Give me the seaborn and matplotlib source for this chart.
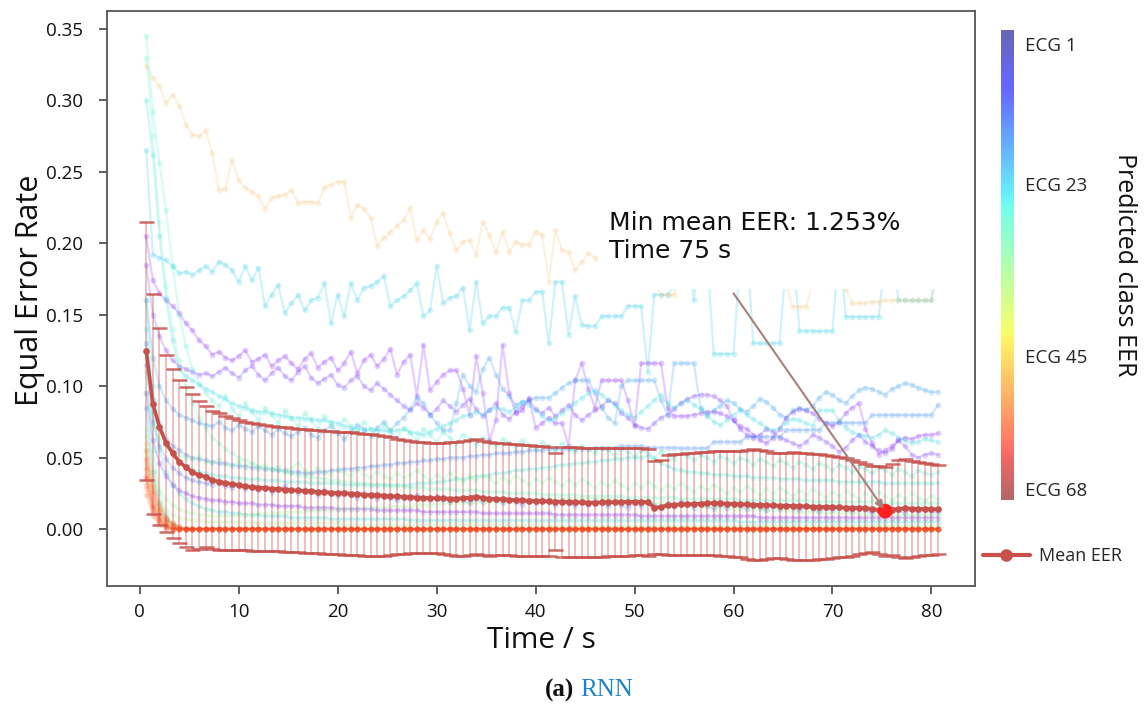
import numpy as np
import pandas as pd
import matplotlib
matplotlib.use("Agg")
import matplotlib.pyplot as plt
import seaborn as sns
from matplotlib.colors import ListedColormap, Normalize
from matplotlib.cm import ScalarMappable
from matplotlib.lines import Line2D
from matplotlib.patches import Rectangle

sns.set_theme(style="ticks")
plt.rcParams["font.family"] = ["DejaVu Sans"]

# ---------------- data ----------------
time_s = np.arange(1, 122) / 1.5          # evaluation grid, every 2/3 s

mean_eer = [0.1246, 0.0875, 0.0716, 0.0600, 0.0530, 0.0471, 0.0432, 0.0397, 0.0378, 0.0366,
            0.0343, 0.0332, 0.0322, 0.0316, 0.0308, 0.0298, 0.0294, 0.0290, 0.0287, 0.0283,
            0.0280, 0.0276, 0.0272, 0.0270, 0.0266, 0.0263, 0.0260, 0.0258, 0.0255, 0.0252,
            0.0250, 0.0248, 0.0245, 0.0240, 0.0238, 0.0236, 0.0234, 0.0230, 0.0228, 0.0225,
            0.0222, 0.0220, 0.0218, 0.0216, 0.0215, 0.0214, 0.0213, 0.0212, 0.0216, 0.0220,
            0.0226, 0.0218, 0.0212, 0.0210, 0.0208, 0.0205, 0.0202, 0.0200, 0.0198, 0.0196,
            0.0195, 0.0193, 0.0192, 0.0190, 0.0189, 0.0188, 0.0186, 0.0185, 0.0184, 0.0186,
            0.0187, 0.0188, 0.0189, 0.0190, 0.0191, 0.0190, 0.0188, 0.0150, 0.0152, 0.0168,
            0.0170, 0.0172, 0.0174, 0.0175, 0.0178, 0.0180, 0.0182, 0.0180, 0.0178, 0.0176,
            0.0174, 0.0172, 0.0170, 0.0168, 0.0166, 0.0165, 0.0164, 0.0163, 0.0162, 0.0160,
            0.0158, 0.0156, 0.0155, 0.0154, 0.0153, 0.0152, 0.0150, 0.0148, 0.0147, 0.0145,
            0.0140, 0.0133, 0.01253, 0.0135, 0.0142, 0.0144, 0.0143, 0.0141, 0.0140, 0.0139, 0.0138]

std_eer = [0.090, 0.077, 0.069, 0.062, 0.059, 0.057, 0.056, 0.0546, 0.0518, 0.0495,
           0.0483, 0.0478, 0.0470, 0.0460, 0.0452, 0.0448, 0.0445, 0.0443, 0.0440, 0.0438,
           0.0437, 0.0436, 0.0434, 0.0433, 0.0432, 0.0430, 0.0430, 0.0431, 0.0430, 0.0429,
           0.0429, 0.0428, 0.0428, 0.0427, 0.0427, 0.0425, 0.0420, 0.0412, 0.0405, 0.0398,
           0.0392, 0.0390, 0.0388, 0.0386, 0.0385, 0.0388, 0.0395, 0.0400, 0.0402, 0.0403,
           0.0402, 0.0400, 0.0398, 0.0394, 0.0392, 0.0390, 0.0392, 0.0390, 0.0390, 0.0388,
           0.0386, 0.0384, 0.0338, 0.0386, 0.0385, 0.0384, 0.0383, 0.0382, 0.0381, 0.0380,
           0.0379, 0.0378, 0.0377, 0.0376, 0.0375, 0.0374, 0.0374, 0.0325, 0.0330, 0.0350,
           0.0352, 0.0355, 0.0356, 0.0358, 0.0360, 0.0362, 0.0365, 0.0368, 0.0370, 0.0372,
           0.0372, 0.0380, 0.0388, 0.0385, 0.0378, 0.0370, 0.0368, 0.0372, 0.0378, 0.0375,
           0.0372, 0.0370, 0.0368, 0.0362, 0.0355, 0.0350, 0.0345, 0.0335, 0.0322, 0.0312,
           0.0300, 0.0306, 0.0311, 0.0318, 0.0340, 0.0345, 0.0336, 0.0330, 0.0325, 0.0318, 0.0310]

ecg50 = [0.324, 0.316, 0.310, 0.298, 0.304, 0.296, 0.283, 0.276, 0.275, 0.279,
         0.263, 0.237, 0.238, 0.258, 0.244, 0.239, 0.236, 0.233, 0.224, 0.232,
         0.233, 0.234, 0.237, 0.228, 0.229, 0.229, 0.228, 0.239, 0.241, 0.243,
         0.243, 0.218, 0.227, 0.224, 0.218, 0.198, 0.204, 0.208, 0.212, 0.216,
         0.225, 0.202, 0.209, 0.203, 0.215, 0.221, 0.207, 0.195, 0.201, 0.202,
         0.192, 0.215, 0.206, 0.194, 0.208, 0.194, 0.201, 0.199, 0.199, 0.208,
         0.206, 0.173, 0.209, 0.195, 0.194, 0.181, 0.187, 0.193, 0.190, 0.185,
         0.192, 0.188, 0.195, 0.186, 0.183, 0.190, 0.180, 0.172, 0.164, 0.164,
         0.164, 0.178, 0.184, 0.180, 0.177, 0.182, 0.179, 0.176, 0.180, 0.178,
         0.175, 0.179, 0.176, 0.174, 0.178, 0.175, 0.173, 0.170, 0.1556, 0.1556,
         0.1556, 0.172, 0.175, 0.170, 0.173, 0.170, 0.168, 0.158, 0.158, 0.158,
         0.159, 0.159, 0.160, 0.160, 0.160, 0.160, 0.160, 0.160, 0.160, 0.160, 0.178]

ecg20 = [0.265, 0.192, 0.190, 0.188, 0.184, 0.179, 0.180, 0.178, 0.181, 0.184,
         0.180, 0.187, 0.185, 0.181, 0.173, 0.184, 0.174, 0.183, 0.156, 0.164,
         0.171, 0.151, 0.158, 0.164, 0.153, 0.160, 0.162, 0.172, 0.144, 0.164,
         0.149, 0.172, 0.160, 0.169, 0.170, 0.173, 0.177, 0.156, 0.160, 0.163,
         0.167, 0.172, 0.149, 0.153, 0.184, 0.158, 0.162, 0.163, 0.169, 0.139,
         0.173, 0.144, 0.149, 0.149, 0.155, 0.155, 0.138, 0.160, 0.160, 0.166,
         0.166, 0.130, 0.173, 0.173, 0.136, 0.163, 0.143, 0.142, 0.142, 0.149,
         0.149, 0.149, 0.149, 0.156, 0.156, 0.156, 0.110, 0.164, 0.164, 0.164,
         0.170, 0.185, 0.195, 0.160, 0.200, 0.190, 0.1225, 0.1225, 0.1225, 0.1225,
         0.190, 0.200, 0.130, 0.130, 0.130, 0.130, 0.130, 0.190, 0.200, 0.1386,
         0.1386, 0.1386, 0.1386, 0.1386, 0.1386, 0.200, 0.1486, 0.1486, 0.1486, 0.1486,
         0.1486, 0.1486, 0.190, 0.200, 0.160, 0.160, 0.160, 0.160, 0.160, 0.160, 0.200]

ecg02 = [0.205, 0.174, 0.165, 0.160, 0.156, 0.151, 0.144, 0.139, 0.132, 0.128,
         0.122, 0.124, 0.120, 0.118, 0.121, 0.125, 0.117, 0.119, 0.122, 0.114,
         0.118, 0.121, 0.116, 0.112, 0.119, 0.123, 0.113, 0.117, 0.120, 0.111,
         0.116, 0.124, 0.109, 0.118, 0.122, 0.114, 0.119, 0.126, 0.108, 0.117,
         0.122, 0.093, 0.129, 0.097, 0.103, 0.108, 0.111, 0.111, 0.098, 0.080,
         0.121, 0.095, 0.062, 0.076, 0.129, 0.095, 0.081, 0.083, 0.092, 0.071,
         0.074, 0.078, 0.074, 0.074, 0.058, 0.104, 0.116, 0.098, 0.085, 0.104,
         0.104, 0.104, 0.104, 0.090, 0.072, 0.116, 0.116, 0.116, 0.116, 0.085,
         0.079, 0.079, 0.079, 0.080, 0.081, 0.082, 0.082, 0.081, 0.079, 0.076,
         0.072, 0.070, 0.066, 0.062, 0.060, 0.064, 0.070, 0.078, 0.082, 0.084,
         0.083, 0.081, 0.077, 0.074, 0.072, 0.075, 0.081, 0.085, 0.088, 0.070,
         0.060, 0.052, 0.055, 0.058, 0.062, 0.064, 0.063, 0.065, 0.066, 0.066, 0.067]

ecg04 = [0.185, 0.150, 0.135, 0.125, 0.118, 0.114, 0.112, 0.110, 0.108, 0.109,
         0.107, 0.110, 0.113, 0.109, 0.106, 0.111, 0.114, 0.108, 0.104, 0.109,
         0.113, 0.107, 0.104, 0.110, 0.114, 0.106, 0.102, 0.105, 0.108, 0.101,
         0.099, 0.104, 0.107, 0.100, 0.097, 0.102, 0.098, 0.094, 0.090, 0.086,
         0.083, 0.088, 0.085, 0.080, 0.084, 0.090, 0.086, 0.082, 0.087, 0.091,
         0.084, 0.079, 0.083, 0.088, 0.080, 0.077, 0.082, 0.086, 0.090, 0.084,
         0.081, 0.085, 0.079, 0.083, 0.087, 0.080, 0.076, 0.080, 0.083, 0.086,
         0.090, 0.088, 0.081, 0.078, 0.073, 0.071, 0.070, 0.074, 0.078, 0.080,
         0.084, 0.088, 0.091, 0.093, 0.094, 0.094, 0.093, 0.090, 0.086, 0.076,
         0.070, 0.066, 0.064, 0.066, 0.070, 0.068, 0.064, 0.062, 0.060, 0.058,
         0.061, 0.066, 0.064, 0.061, 0.058, 0.054, 0.057, 0.062, 0.066, 0.061,
         0.058, 0.055, 0.053, 0.056, 0.062, 0.058, 0.052, 0.050, 0.052, 0.053, 0.052]

ecg12 = [0.130, 0.090, 0.072, 0.063, 0.058, 0.055, 0.052, 0.050, 0.049, 0.048,
         0.047, 0.046, 0.046, 0.045, 0.044, 0.044, 0.043, 0.043, 0.042, 0.042,
         0.041, 0.041, 0.040, 0.040, 0.039, 0.039, 0.040, 0.040, 0.041, 0.041,
         0.042, 0.042, 0.043, 0.043, 0.044, 0.044, 0.045, 0.045, 0.046, 0.046,
         0.047, 0.047, 0.048, 0.048, 0.049, 0.049, 0.050, 0.050, 0.050, 0.051,
         0.051, 0.052, 0.052, 0.053, 0.053, 0.053, 0.054, 0.054, 0.055, 0.055,
         0.055, 0.056, 0.056, 0.056, 0.056, 0.056, 0.056, 0.056, 0.057, 0.057,
         0.057, 0.057, 0.058, 0.058, 0.058, 0.058, 0.057, 0.057, 0.057, 0.057,
         0.057, 0.0565, 0.0565, 0.0565, 0.0565, 0.0565, 0.061, 0.061, 0.061, 0.061,
         0.061, 0.0646, 0.0646, 0.0646, 0.0646, 0.0646, 0.0646, 0.0693, 0.0693, 0.0693,
         0.0693, 0.0693, 0.0693, 0.0744, 0.0744, 0.0744, 0.0744, 0.0744, 0.0744, 0.0744,
         0.0798, 0.0798, 0.0798, 0.0798, 0.0798, 0.0798, 0.0798, 0.0798, 0.0798, 0.0798, 0.087]

ecg14 = [0.160, 0.120, 0.100, 0.090, 0.084, 0.080, 0.078, 0.076, 0.074, 0.073,
         0.072, 0.075, 0.071, 0.069, 0.073, 0.070, 0.068, 0.072, 0.069, 0.066,
         0.070, 0.067, 0.065, 0.068, 0.071, 0.066, 0.064, 0.069, 0.072, 0.067,
         0.063, 0.068, 0.073, 0.070, 0.065, 0.071, 0.075, 0.069, 0.074, 0.078,
         0.084, 0.092, 0.088, 0.080, 0.074, 0.069, 0.069, 0.088, 0.108, 0.100,
         0.096, 0.112, 0.120, 0.108, 0.098, 0.093, 0.087, 0.089, 0.090, 0.092,
         0.092, 0.092, 0.095, 0.099, 0.102, 0.104, 0.104, 0.104, 0.095, 0.085,
         0.078, 0.074, 0.100, 0.104, 0.104, 0.104, 0.104, 0.104, 0.090, 0.080,
         0.116, 0.116, 0.116, 0.116, 0.085, 0.080, 0.083, 0.086, 0.090, 0.088,
         0.084, 0.082, 0.086, 0.091, 0.089, 0.085, 0.080, 0.078, 0.083, 0.085,
         0.083, 0.086, 0.092, 0.096, 0.094, 0.090, 0.088, 0.093, 0.097, 0.099,
         0.098, 0.096, 0.094, 0.098, 0.100, 0.102, 0.101, 0.099, 0.097, 0.096, 0.096]

ecg22 = [0.300, 0.262, 0.205, 0.162, 0.132, 0.112, 0.107, 0.104, 0.101, 0.098,
         0.096, 0.093, 0.091, 0.088, 0.086, 0.085, 0.083, 0.082, 0.082, 0.081,
         0.080, 0.079, 0.078, 0.078, 0.077, 0.077, 0.076, 0.076, 0.075, 0.074,
         0.072, 0.071, 0.070, 0.069, 0.070, 0.069, 0.069, 0.068, 0.069, 0.070,
         0.068, 0.067, 0.066, 0.068, 0.070, 0.072, 0.074, 0.076, 0.079, 0.080,
         0.082, 0.080, 0.083, 0.085, 0.084, 0.082, 0.085, 0.089, 0.087, 0.083,
         0.079, 0.076, 0.078, 0.081, 0.085, 0.088, 0.092, 0.095, 0.097, 0.094,
         0.090, 0.087, 0.083, 0.080, 0.078, 0.082, 0.086, 0.090, 0.094, 0.088,
         0.085, 0.088, 0.090, 0.087, 0.084, 0.079, 0.075, 0.073, 0.076, 0.080,
         0.083, 0.080, 0.077, 0.074, 0.071, 0.069, 0.071, 0.074, 0.077, 0.076,
         0.074, 0.072, 0.083, 0.083, 0.083, 0.076, 0.071, 0.068, 0.066, 0.065,
         0.064, 0.066, 0.069, 0.067, 0.064, 0.062, 0.060, 0.061, 0.063, 0.062, 0.061]

ecg25 = [0.160, 0.100, 0.075, 0.060, 0.052, 0.047, 0.044, 0.042, 0.040, 0.039,
         0.038, 0.037, 0.037, 0.036, 0.036, 0.035, 0.035, 0.035, 0.034, 0.034,
         0.034, 0.033, 0.033, 0.033, 0.033, 0.032, 0.032, 0.032, 0.032, 0.032,
         0.031, 0.031, 0.031, 0.031, 0.031, 0.031, 0.031, 0.031, 0.031, 0.031,
         0.031, 0.032, 0.032, 0.032, 0.033, 0.033, 0.034, 0.035, 0.035, 0.036,
         0.037, 0.037, 0.038, 0.039, 0.039, 0.040, 0.041, 0.041, 0.042, 0.042,
         0.043, 0.043, 0.044, 0.045, 0.045, 0.046, 0.046, 0.047, 0.047, 0.048,
         0.048, 0.049, 0.049, 0.050, 0.050, 0.050, 0.051, 0.049, 0.046, 0.044,
         0.042, 0.041, 0.040, 0.040, 0.039, 0.039, 0.038, 0.038, 0.038, 0.037,
         0.037, 0.037, 0.036, 0.036, 0.036, 0.036, 0.035, 0.035, 0.035, 0.035,
         0.034, 0.034, 0.034, 0.034, 0.034, 0.033, 0.033, 0.033, 0.033, 0.033,
         0.033, 0.033, 0.032, 0.032, 0.032, 0.032, 0.032, 0.032, 0.032, 0.032, 0.032]

ecg27 = [0.345, 0.292, 0.256, 0.223, 0.184, 0.150, 0.128, 0.112, 0.102, 0.095,
         0.090, 0.086, 0.093, 0.084, 0.079, 0.088, 0.082, 0.076, 0.085, 0.080,
         0.074, 0.083, 0.078, 0.072, 0.081, 0.076, 0.070, 0.079, 0.074, 0.068,
         0.077, 0.072, 0.067, 0.075, 0.070, 0.065, 0.073, 0.069, 0.064, 0.071,
         0.067, 0.062, 0.070, 0.066, 0.061, 0.068, 0.064, 0.060, 0.066, 0.063,
         0.059, 0.064, 0.061, 0.058, 0.063, 0.060, 0.057, 0.062, 0.059, 0.056,
         0.061, 0.058, 0.055, 0.060, 0.057, 0.054, 0.058, 0.056, 0.053, 0.057,
         0.055, 0.052, 0.056, 0.054, 0.051, 0.055, 0.053, 0.050, 0.054, 0.052,
         0.049, 0.053, 0.051, 0.048, 0.052, 0.050, 0.047, 0.051, 0.049, 0.046,
         0.050, 0.048, 0.045, 0.049, 0.047, 0.044, 0.048, 0.046, 0.043, 0.047,
         0.045, 0.042, 0.046, 0.044, 0.041, 0.045, 0.043, 0.040, 0.044, 0.042,
         0.039, 0.043, 0.041, 0.038, 0.042, 0.040, 0.037, 0.041, 0.039, 0.038, 0.040]

ecg31 = [0.330, 0.275, 0.215, 0.170, 0.140, 0.118, 0.100, 0.088, 0.078, 0.070,
         0.064, 0.060, 0.056, 0.053, 0.050, 0.048, 0.046, 0.044, 0.043, 0.042,
         0.041, 0.040, 0.039, 0.038, 0.037, 0.036, 0.036, 0.035, 0.034, 0.034,
         0.033, 0.033, 0.032, 0.032, 0.031, 0.031, 0.031, 0.030, 0.030, 0.030,
         0.029, 0.029, 0.029, 0.028, 0.028, 0.028, 0.028, 0.027, 0.027, 0.027,
         0.027, 0.026, 0.026, 0.026, 0.026, 0.025, 0.025, 0.025, 0.025, 0.025,
         0.024, 0.024, 0.024, 0.024, 0.024, 0.024, 0.023, 0.023, 0.023, 0.023,
         0.023, 0.023, 0.023, 0.022, 0.022, 0.022, 0.022, 0.022, 0.022, 0.022,
         0.022, 0.021, 0.021, 0.021, 0.021, 0.021, 0.021, 0.021, 0.021, 0.021,
         0.020, 0.020, 0.020, 0.020, 0.020, 0.020, 0.020, 0.020, 0.020, 0.020,
         0.020, 0.019, 0.019, 0.019, 0.019, 0.019, 0.019, 0.019, 0.019, 0.019,
         0.019, 0.019, 0.018, 0.018, 0.018, 0.018, 0.018, 0.018, 0.018, 0.018, 0.018]

ecg10 = [0.115, 0.075, 0.058, 0.049, 0.043, 0.039, 0.036, 0.034, 0.033, 0.032,
         0.031, 0.033, 0.030, 0.029, 0.031, 0.028, 0.030, 0.027, 0.029, 0.026,
         0.028, 0.030, 0.027, 0.025, 0.028, 0.026, 0.024, 0.027, 0.025, 0.023,
         0.026, 0.024, 0.022, 0.025, 0.023, 0.021, 0.024, 0.022, 0.020, 0.023,
         0.021, 0.024, 0.022, 0.020, 0.023, 0.021, 0.019, 0.022, 0.020, 0.018,
         0.021, 0.019, 0.022, 0.020, 0.018, 0.021, 0.019, 0.017, 0.020, 0.018,
         0.021, 0.019, 0.017, 0.020, 0.018, 0.016, 0.019, 0.017, 0.020, 0.018,
         0.016, 0.019, 0.017, 0.015, 0.018, 0.016, 0.019, 0.017, 0.015, 0.018,
         0.016, 0.019, 0.017, 0.015, 0.018, 0.016, 0.014, 0.017, 0.015, 0.018,
         0.016, 0.014, 0.017, 0.015, 0.013, 0.016, 0.014, 0.017, 0.015, 0.013,
         0.016, 0.014, 0.012, 0.015, 0.013, 0.016, 0.014, 0.012, 0.015, 0.013,
         0.011, 0.014, 0.012, 0.015, 0.013, 0.011, 0.014, 0.012, 0.013, 0.012, 0.012]

ecg03 = [0.095, 0.062, 0.046, 0.037, 0.031, 0.027, 0.025, 0.023, 0.022, 0.021,
         0.020, 0.020, 0.019, 0.019, 0.018, 0.018, 0.018, 0.017, 0.017, 0.017,
         0.016, 0.016, 0.016, 0.016, 0.015, 0.015, 0.015, 0.015, 0.015, 0.014,
         0.014, 0.014, 0.014, 0.014, 0.014, 0.013, 0.013, 0.013, 0.013, 0.013,
         0.013, 0.013, 0.012, 0.012, 0.012, 0.012, 0.012, 0.012, 0.012, 0.012,
         0.012, 0.011, 0.011, 0.011, 0.011, 0.011, 0.011, 0.011, 0.011, 0.011,
         0.011, 0.011, 0.010, 0.010, 0.010, 0.010, 0.010, 0.010, 0.010, 0.010,
         0.010, 0.010, 0.010, 0.010, 0.010, 0.009, 0.009, 0.009, 0.009, 0.009,
         0.009, 0.009, 0.009, 0.009, 0.009, 0.009, 0.009, 0.009, 0.009, 0.009,
         0.009, 0.009, 0.009, 0.008, 0.008, 0.008, 0.008, 0.008, 0.008, 0.008,
         0.008, 0.008, 0.008, 0.008, 0.008, 0.008, 0.008, 0.008, 0.008, 0.008,
         0.008, 0.008, 0.008, 0.008, 0.008, 0.008, 0.008, 0.008, 0.008, 0.008, 0.008]

ecg24 = [0.140, 0.082, 0.055, 0.040, 0.031, 0.025, 0.021, 0.018, 0.016, 0.014,
         0.013, 0.012, 0.012, 0.011, 0.011, 0.010, 0.010, 0.010, 0.009, 0.009,
         0.009, 0.009, 0.008, 0.008, 0.008, 0.008, 0.008, 0.008, 0.007, 0.007,
         0.007, 0.007, 0.007, 0.007, 0.007, 0.007, 0.007, 0.007, 0.007, 0.007,
         0.006, 0.006, 0.006, 0.006, 0.006, 0.006, 0.006, 0.006, 0.006, 0.006,
         0.006, 0.006, 0.006, 0.006, 0.006, 0.006, 0.006, 0.006, 0.006, 0.006,
         0.006, 0.006, 0.006, 0.006, 0.006, 0.006, 0.006, 0.006, 0.006, 0.006,
         0.006, 0.006, 0.006, 0.006, 0.006, 0.006, 0.006, 0.006, 0.006, 0.006,
         0.006, 0.006, 0.006, 0.006, 0.006, 0.006, 0.006, 0.006, 0.006, 0.006,
         0.005, 0.005, 0.005, 0.005, 0.005, 0.005, 0.005, 0.005, 0.005, 0.005,
         0.005, 0.005, 0.005, 0.005, 0.005, 0.005, 0.005, 0.005, 0.005, 0.005,
         0.005, 0.005, 0.005, 0.005, 0.005, 0.005, 0.005, 0.005, 0.005, 0.005, 0.005]

ecg34 = [0.095, 0.072, 0.063, 0.058, 0.055, 0.052, 0.050, 0.049, 0.051, 0.047,
         0.046, 0.049, 0.045, 0.044, 0.047, 0.043, 0.046, 0.042, 0.045, 0.041,
         0.044, 0.040, 0.043, 0.046, 0.041, 0.039, 0.043, 0.040, 0.038, 0.042,
         0.039, 0.037, 0.041, 0.038, 0.036, 0.040, 0.037, 0.035, 0.039, 0.036,
         0.038, 0.041, 0.037, 0.034, 0.038, 0.035, 0.039, 0.036, 0.033, 0.037,
         0.034, 0.038, 0.035, 0.032, 0.036, 0.033, 0.037, 0.034, 0.031, 0.035,
         0.032, 0.036, 0.033, 0.030, 0.034, 0.031, 0.035, 0.032, 0.029, 0.033,
         0.030, 0.034, 0.031, 0.028, 0.032, 0.029, 0.033, 0.030, 0.027, 0.031,
         0.028, 0.032, 0.029, 0.026, 0.030, 0.027, 0.031, 0.028, 0.025, 0.029,
         0.026, 0.030, 0.027, 0.024, 0.028, 0.025, 0.029, 0.026, 0.023, 0.027,
         0.024, 0.028, 0.025, 0.022, 0.026, 0.023, 0.027, 0.024, 0.021, 0.025,
         0.022, 0.026, 0.023, 0.020, 0.024, 0.021, 0.025, 0.022, 0.020, 0.023, 0.021]

ecg38 = [0.065, 0.040, 0.028, 0.021, 0.017, 0.014, 0.012, 0.011, 0.010, 0.010,
         0.009, 0.009, 0.009, 0.009, 0.010, 0.010, 0.010, 0.011, 0.011, 0.011,
         0.011, 0.012, 0.012, 0.012, 0.012, 0.013, 0.013, 0.013, 0.013, 0.014,
         0.014, 0.014, 0.014, 0.015, 0.015, 0.015, 0.015, 0.016, 0.016, 0.016,
         0.016, 0.017, 0.017, 0.017, 0.017, 0.018, 0.018, 0.018, 0.018, 0.018,
         0.019, 0.019, 0.019, 0.019, 0.019, 0.020, 0.020, 0.020, 0.020, 0.020,
         0.020, 0.021, 0.021, 0.021, 0.021, 0.021, 0.021, 0.021, 0.021, 0.021,
         0.021, 0.020, 0.020, 0.020, 0.019, 0.019, 0.019, 0.018, 0.018, 0.018,
         0.017, 0.017, 0.017, 0.016, 0.016, 0.016, 0.015, 0.015, 0.015, 0.015,
         0.014, 0.014, 0.014, 0.014, 0.013, 0.013, 0.013, 0.013, 0.012, 0.012,
         0.012, 0.012, 0.012, 0.011, 0.011, 0.011, 0.011, 0.011, 0.011, 0.010,
         0.010, 0.010, 0.010, 0.010, 0.010, 0.010, 0.010, 0.010, 0.010, 0.010, 0.010]

ecg42 = [0.055, 0.030, 0.019, 0.013, 0.010, 0.008, 0.007, 0.006, 0.006, 0.005,
         0.005, 0.005, 0.005, 0.005, 0.005, 0.004, 0.004, 0.004, 0.004, 0.004,
         0.004, 0.004, 0.004, 0.004, 0.004, 0.004, 0.004, 0.004, 0.004, 0.004,
         0.003, 0.003, 0.003, 0.003, 0.003, 0.003, 0.003, 0.003, 0.003, 0.003,
         0.003, 0.003, 0.003, 0.003, 0.003, 0.003, 0.003, 0.003, 0.003, 0.003,
         0.003, 0.003, 0.003, 0.003, 0.003, 0.003, 0.003, 0.003, 0.003, 0.003,
         0.002, 0.002, 0.002, 0.002, 0.002, 0.002, 0.002, 0.002, 0.002, 0.002,
         0.002, 0.002, 0.002, 0.002, 0.002, 0.002, 0.002, 0.002, 0.002, 0.002,
         0.002, 0.002, 0.002, 0.002, 0.002, 0.002, 0.002, 0.002, 0.002, 0.002,
         0.002, 0.002, 0.002, 0.002, 0.002, 0.002, 0.002, 0.002, 0.002, 0.002,
         0.002, 0.002, 0.002, 0.002, 0.002, 0.002, 0.002, 0.002, 0.002, 0.002,
         0.002, 0.002, 0.002, 0.002, 0.002, 0.002, 0.002, 0.002, 0.002, 0.002, 0.002]

# classes that reach zero EER after the first few seconds
zero_tail = [0.0] * 115
ecg15 = [0.085, 0.040, 0.018, 0.008, 0.003, 0.001] + zero_tail
ecg29 = [0.110, 0.055, 0.025, 0.010, 0.004, 0.001] + zero_tail
ecg36 = [0.070, 0.033, 0.015, 0.006, 0.002, 0.000] + zero_tail
ecg47 = [0.052, 0.028, 0.014, 0.007, 0.003, 0.001] + zero_tail
ecg49 = [0.041, 0.019, 0.009, 0.004, 0.002, 0.000] + zero_tail
ecg51 = [0.060, 0.035, 0.018, 0.009, 0.004, 0.002] + zero_tail
ecg53 = [0.034, 0.015, 0.006, 0.002, 0.000, 0.000] + zero_tail
ecg54 = [0.046, 0.024, 0.012, 0.005, 0.002, 0.000] + zero_tail
ecg55 = [0.028, 0.011, 0.004, 0.001, 0.000, 0.000] + zero_tail
ecg56 = [0.038, 0.017, 0.008, 0.003, 0.001, 0.000] + zero_tail
ecg57 = [0.055, 0.030, 0.016, 0.008, 0.004, 0.002] + zero_tail
ecg58 = [0.024, 0.009, 0.003, 0.000, 0.000, 0.000] + zero_tail
ecg59 = [0.043, 0.021, 0.010, 0.004, 0.001, 0.000] + zero_tail
ecg60 = [0.031, 0.013, 0.005, 0.002, 0.000, 0.000] + zero_tail
ecg62 = [0.049, 0.026, 0.013, 0.006, 0.003, 0.001] + zero_tail
ecg65 = [0.036, 0.016, 0.007, 0.002, 0.000, 0.000] + zero_tail

class_series = {
    2: ecg02, 3: ecg03, 4: ecg04, 10: ecg10, 12: ecg12, 14: ecg14, 15: ecg15,
    20: ecg20, 22: ecg22, 24: ecg24, 25: ecg25, 27: ecg27, 29: ecg29, 31: ecg31,
    34: ecg34, 36: ecg36, 38: ecg38, 42: ecg42, 47: ecg47, 49: ecg49, 50: ecg50,
    51: ecg51, 53: ecg53, 54: ecg54, 55: ecg55, 56: ecg56, 57: ecg57, 58: ecg58,
    59: ecg59, 60: ecg60, 62: ecg62, 65: ecg65,
}
for cls, vals in class_series.items():
    assert len(vals) == len(time_s), (cls, len(vals))
assert len(mean_eer) == len(time_s) and len(std_eer) == len(time_s)

colorbar_ticks = ["ECG 1", "ECG 23", "ECG 45", "ECG 68"]

# ---------------- figure ----------------
W, H = 1145, 706
fig = plt.figure(figsize=(W / 100, H / 100), dpi=100)
fig.patch.set_facecolor("white")
ax = fig.add_axes([107 / W, 1 - 586 / H, (975 - 107) / W, (586 - 11) / H])
ax.set_facecolor("white")

df = pd.DataFrame(
    [(cls, t, v) for cls, vals in class_series.items() for t, v in zip(time_s, vals)],
    columns=["cls", "time", "eer"],
)
line_cmap = plt.get_cmap("rainbow")
palette = {cls: line_cmap((cls - 1) / 67) for cls in class_series}
sns.lineplot(data=df, x="time", y="eer", hue="cls", palette=palette,
             estimator=None, marker="o", markersize=4.2, markeredgewidth=0,
             linewidth=1.6, alpha=0.2, legend=False, ax=ax, zorder=2)

mean_color = "#c8504b"
eb = ax.errorbar(time_s, mean_eer, yerr=std_eer, fmt="none", ecolor=mean_color,
                 elinewidth=1.1, capsize=5.4, capthick=1.8, zorder=3)
for c in eb[1]:
    c.set_alpha(0.85)
for c in eb[2]:
    c.set_alpha(0.45)
sns.lineplot(x=time_s, y=mean_eer, color=mean_color, marker="o", markersize=4.8,
             markeredgewidth=0, linewidth=2.6, ax=ax, zorder=4)

i_min = int(np.argmin(mean_eer))
t_min, m_min = time_s[i_min], mean_eer[i_min]
sns.scatterplot(x=[t_min], y=[m_min], color="#ff1f1f", s=110, edgecolor="none",
                ax=ax, zorder=6)

# white box behind annotation text (hides lines)
ax.add_patch(Rectangle((46.3, 0.168), 40, 0.1, facecolor="white",
                       edgecolor="none", zorder=3.5))
ax.text(47.4, 0.2045, f"Min mean EER: {m_min*100:.3f}%\nTime {t_min:.0f} s",
        fontsize=18, color="#111111", va="center", ha="left", zorder=7,
        linespacing=1.2)
ax.annotate("", xy=(t_min, m_min), xytext=(60.0, 0.165),
            arrowprops=dict(arrowstyle="-|>", color="#a8817b", lw=1.5,
                            mutation_scale=12, shrinkA=0, shrinkB=2), zorder=7)

ax.set_xlim(-3.3, 84.4)
ax.set_ylim(-0.0399, 0.3626)
ax.set_xticks(np.arange(0, 81, 10))
ax.set_yticks(np.arange(0, 0.351, 0.05))
ax.set_yticklabels([f"{v:.2f}" for v in np.arange(0, 0.351, 0.05)])
ax.tick_params(direction="out", length=6, width=1.2, color="#444444",
               labelsize=13.5, labelcolor="#111111")
ax.tick_params(axis="y", pad=11)
ax.tick_params(axis="x", pad=6)
for lab in ax.get_xticklabels() + ax.get_yticklabels():
    lab.set_family(["Open Sans", "DejaVu Sans"])
for sp in ax.spines.values():
    sp.set_visible(True)
    sp.set_color("#555555")
    sp.set_linewidth(1.3)
    sp.set_zorder(10)
ax.set_xlabel("")
ax.set_ylabel("")

fig.text(30 / W, 1 - 290 / H, "Equal Error Rate", rotation=90, fontsize=22,
         family=["Open Sans", "DejaVu Sans"], ha="center", va="center", color="#111111")
fig.text(541 / W, 1 - 640 / H, "Time / s", fontsize=21.5,
         family=["Open Sans", "DejaVu Sans"], ha="center", va="center", color="#111111")

# caption
fig.text(574 / W, 1 - 690 / H, "(a)", fontsize=18, fontweight="bold",
         family=["Liberation Serif"], ha="right", va="center", color="#111111")
fig.text(580 / W, 1 - 690 / H, "RNN", fontsize=18,
         family=["Liberation Serif"], ha="left", va="center", color="#1e82c8")

# colour bar
jet = plt.get_cmap("jet")(np.linspace(0, 1, 256))[:, :3]
cb_cmap = ListedColormap(0.6 * jet + 0.4)
cax = fig.add_axes([1001 / W, 1 - 500 / H, 13 / W, 470 / H])
cb = fig.colorbar(ScalarMappable(norm=Normalize(1, 68), cmap=cb_cmap), cax=cax)
cax.invert_yaxis()
cb.outline.set_visible(False)
cb.set_ticks([3, 23, 47.5, 66.5])
cb.set_ticklabels(colorbar_ticks)
cax.tick_params(length=0, pad=8, labelsize=13.5)
for lab in cax.get_yticklabels():
    lab.set_family(["Open Sans", "DejaVu Sans"])
fig.text(1125 / W, 1 - 265 / H, "Predicted class EER", rotation=270, fontsize=18,
         family=["Open Sans", "DejaVu Sans"], ha="center", va="center", color="#111111")

handle = Line2D([0], [0], color=mean_color, lw=3, marker="o", markersize=8)
fig.legend([handle], ["Mean EER"], loc="center left",
           bbox_to_anchor=(983 / W, 1 - 556 / H), frameon=False,
           handlelength=2.6, handletextpad=0.5, borderpad=0, borderaxespad=0,
           prop={"family": ["Open Sans", "DejaVu Sans"], "size": 13})

fig.savefig("out.png", dpi=100, facecolor="white")
